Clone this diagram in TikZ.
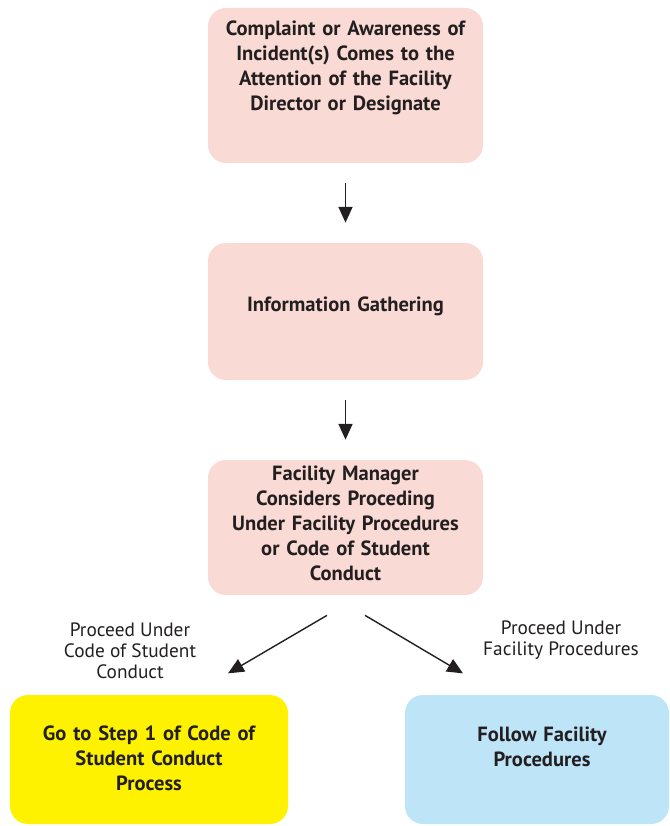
\documentclass[tikz,border=0pt]{standalone}
\usepackage{fontspec}
\setmainfont{PT Sans}
\usepackage{tikz}
\usetikzlibrary{calc,arrows.meta}
\definecolor{rose}{RGB}{250,218,212}
\definecolor{jaune}{RGB}{255,242,0}
\definecolor{bleu}{RGB}{190,228,248}
\definecolor{encre}{RGB}{35,31,32}
\tikzstyle{etape} = [rectangle, rounded corners=0.36cm, draw=none, minimum width=5.5cm, inner sep=0pt]
\tikzstyle{texte} = [text width=5.4cm, align=center, font=\bfseries\fontsize{11.7}{14.2}\selectfont, text=encre]
\tikzstyle{choix} = [align=center, font=\fontsize{11}{12}\selectfont, text=encre]
\tikzstyle{fleche} = [-{Triangle[width=8pt,length=9pt]}, thick, draw=encre]

\begin{document}
\begin{tikzpicture}

        \useasboundingbox (0,0) rectangle (13.38,-16.52);
        \clip (0,0) rectangle (13.38,-16.52);

        \node (E1) [etape, fill=rose, minimum height=3.1cm] at (6.91,-1.71) {};
        \node (t1) [texte] at (6.91,-1.36) {Complaint or Awareness of\\ Incident(s) Comes to the\\ Attention of the Facility\\ Director or Designate};

        \node (E2) [etape, fill=rose, minimum height=2.74cm] at (6.91,-6.23) {};
        \node (t2) [texte] at (6.91,-6.12) {Information Gathering};

        \node (E3) [etape, fill=rose, minimum height=2.7cm] at (6.91,-10.55) {};
        \node (t3) [texte] at (6.91,-10.46) {Facility Manager\\ Considers Proceding\\ Under Facility Procedures\\ or Code of Student\\ Conduct};

        \node (E4) [etape, fill=jaune, minimum width=5.56cm, minimum height=2.58cm] at (2.98,-15.19) {};
        \node (t4) [texte] at (2.98,-15.16) {Go to Step 1 of Code of\\ Student Conduct\\ Process};

        \node (E5) [etape, fill=bleu, minimum width=5.28cm, minimum height=2.58cm] at (10.74,-15.19) {};
        \node (t5) [texte] at (10.84,-14.94) {Follow Facility\\ Procedures};

        \draw[fleche, shorten <=0.4cm, shorten >=0.4cm] (E1) -- (E2);
        \draw[fleche, shorten <=0.4cm, shorten >=0.4cm] (E2) -- (E3);

        \draw[fleche] ($(E3.south) + (-0.37,-0.4)$) -- ($(E3.south) + (-2.35,-1.56)$);
        \draw[fleche] ($(E3.south) + (0.39,-0.4)$) -- ($(E3.south) + (2.35,-1.56)$);

        \node (c1) [choix] at (2.6,-13.02) {Proceed Under\\ Code of Student\\ Conduct};
        \node (c2) [choix] at (11.22,-12.8) {Proceed Under\\ Facility Procedures};

    \end{tikzpicture}
\end{document}
